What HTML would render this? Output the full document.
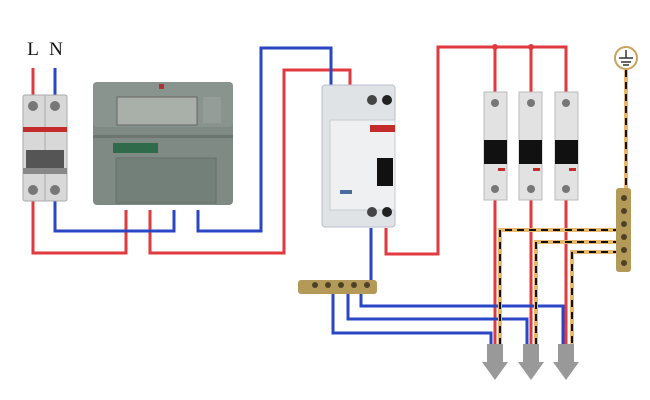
<!DOCTYPE html>
<html><head><meta charset="utf-8"><style>
html,body{margin:0;padding:0;background:#fff;width:650px;height:400px;overflow:hidden}
</style></head><body>
<svg width="650" height="400" viewBox="0 0 650 400" xmlns="http://www.w3.org/2000/svg">
<rect width="650" height="400" fill="#fff"/>
<text x="33" y="55" font-family="Liberation Serif, serif" font-size="19" text-anchor="middle" fill="#111">L</text>
<text x="56" y="55" font-family="Liberation Serif, serif" font-size="19" text-anchor="middle" fill="#111">N</text>

<g fill="none" stroke-width="3" stroke-linejoin="miter">
<!-- red wires -->
<polyline stroke="#e0393f" points="33,68 33,95"/>
<polyline stroke="#e0393f" points="33,200 33,253 126,253 126,210"/>
<polyline stroke="#e0393f" points="150,210 150,253 284,253 284,70 350,70 350,85"/>
<polyline stroke="#e0393f" points="386,228 386,254 438,254 438,47 566,47 566,92"/>
<polyline stroke="#e0393f" points="495,47 495,92"/>
<polyline stroke="#e0393f" points="531,47 531,92"/>
<polyline stroke="#e0393f" points="495,200 495,344"/>
<polyline stroke="#e0393f" points="531,200 531,344"/>
<polyline stroke="#e0393f" points="566,200 566,344"/>
<!-- blue wires -->
<polyline stroke="#2b46c4" points="55,68 55,95"/>
<polyline stroke="#2b46c4" points="55,200 55,231 174,231 174,210"/>
<polyline stroke="#2b46c4" points="198,210 198,231 261,231 261,48 331,48 331,85"/>
<polyline stroke="#2b46c4" points="371,228 371,284"/>
<polyline stroke="#2b46c4" points="333,292 333,333 491,333 491,344"/>
<polyline stroke="#2b46c4" points="348,292 348,319 527,319 527,344"/>
<polyline stroke="#2b46c4" points="361,292 361,306 563,306 563,344"/>
</g>
<circle cx="495" cy="47" r="3" fill="#e0393f"/>
<circle cx="531" cy="47" r="3" fill="#e0393f"/>

<!-- earth wires -->
<g fill="none" stroke-width="4">
<g stroke="#e5b969">
<polyline points="626,70 626,192"/>
<polyline points="620,230 500,230 500,344"/>
<polyline points="620,242 536,242 536,344"/>
<polyline points="620,252 572,252 572,344"/>
</g>
<g stroke="#111" stroke-width="2" stroke-dasharray="7,5">
<polyline points="626,70 626,192"/>
<polyline points="620,230 500,230 500,344"/>
<polyline points="620,242 536,242 536,344"/>
<polyline points="620,252 572,252 572,344"/>
</g>
</g>
<circle cx="626" cy="58" r="11" fill="#fff" stroke="#c9a15a" stroke-width="2"/>
<g stroke="#333" stroke-width="1.5"><line x1="626" y1="50" x2="626" y2="58"/><line x1="619" y1="58" x2="633" y2="58"/><line x1="621" y1="62" x2="631" y2="62"/><line x1="623" y1="65" x2="629" y2="65"/></g>

<!-- earth bus -->
<rect x="616" y="188" width="15" height="84" rx="3" fill="#b39a58"/>
<g fill="#4e4226"><circle cx="624" cy="198" r="3"/><circle cx="624" cy="211" r="3"/><circle cx="624" cy="224" r="3"/><circle cx="624" cy="237" r="3"/><circle cx="624" cy="250" r="3"/><circle cx="624" cy="263" r="3"/></g>

<!-- neutral bus -->
<rect x="298" y="280" width="79" height="14" rx="3" fill="#b39a58"/>
<g fill="#4e4226"><circle cx="315" cy="285" r="3"/><circle cx="328" cy="285" r="3"/><circle cx="341" cy="285" r="3"/><circle cx="354" cy="285" r="3"/><circle cx="367" cy="285" r="3"/></g>

<!-- arrows -->
<g fill="#999">
<polygon points="487,344 503,344 503,362 508,362 495,380 482,362 487,362"/>
<polygon points="523,344 539,344 539,362 544,362 531,380 518,362 523,362"/>
<polygon points="558,344 574,344 574,362 579,362 566,380 553,362 558,362"/>
</g>

<!-- 2-pole breaker -->
<rect x="23" y="95" width="44" height="106" rx="2" fill="#d8d8d8" stroke="#aaa"/>
<line x1="45" y1="95" x2="45" y2="201" stroke="#aaa"/>
<rect x="23" y="127" width="44" height="5" fill="#c42c2c"/>
<rect x="26" y="150" width="38" height="20" fill="#555"/>
<rect x="23" y="168" width="44" height="6" fill="#888"/>
<circle cx="33" cy="106" r="5" fill="#777"/><circle cx="55" cy="106" r="5" fill="#777"/>
<circle cx="33" cy="190" r="5" fill="#777"/><circle cx="55" cy="190" r="5" fill="#777"/>

<!-- meter -->
<rect x="93" y="82" width="140" height="123" rx="4" fill="#7f8a84"/>
<rect x="93" y="82" width="140" height="45" rx="4" fill="#8a948f"/>
<rect x="117" y="97" width="80" height="28" fill="#a9b0aa" stroke="#666"/>
<rect x="203" y="97" width="18" height="26" fill="#959d98"/>
<rect x="93" y="135" width="140" height="3" fill="#6c7570"/>
<rect x="113" y="143" width="45" height="10" fill="#2f6b4a"/>
<rect x="116" y="158" width="100" height="45" fill="#738079" stroke="#65706a"/>
<rect x="159" y="84" width="5" height="5" fill="#a33"/>

<!-- RCD -->
<rect x="322" y="85" width="73" height="142" rx="3" fill="#dfe3e6" stroke="#bbc"/>
<rect x="330" y="120" width="65" height="90" fill="#eef0f2" stroke="#c8ccd0"/>
<rect x="370" y="125" width="25" height="7" fill="#c42c2c"/>
<rect x="377" y="158" width="16" height="28" fill="#111"/>
<circle cx="372" cy="100" r="5" fill="#444"/><circle cx="387" cy="100" r="5" fill="#222"/>
<circle cx="372" cy="212" r="5" fill="#444"/><circle cx="387" cy="212" r="5" fill="#222"/>
<rect x="340" y="190" width="12" height="4" fill="#4b6a9a"/>

<!-- 1-pole breakers -->
<g>
<rect x="484" y="92" width="23" height="108" fill="#e2e2e2" stroke="#bbb"/>
<rect x="519" y="92" width="23" height="108" fill="#e2e2e2" stroke="#bbb"/>
<rect x="555" y="92" width="23" height="108" fill="#e2e2e2" stroke="#bbb"/>
<g fill="#111">
<rect x="484" y="140" width="23" height="24"/><rect x="519" y="140" width="23" height="24"/><rect x="555" y="140" width="23" height="24"/>
</g>
<g fill="#777">
<circle cx="495" cy="103" r="4"/><circle cx="531" cy="103" r="4"/><circle cx="566" cy="103" r="4"/>
<circle cx="495" cy="189" r="4"/><circle cx="531" cy="189" r="4"/><circle cx="566" cy="189" r="4"/>
</g>
<g fill="#c42c2c"><rect x="498" y="168" width="7" height="3"/><rect x="533" y="168" width="7" height="3"/><rect x="569" y="168" width="7" height="3"/></g>
</g>
</svg>
</body></html>
